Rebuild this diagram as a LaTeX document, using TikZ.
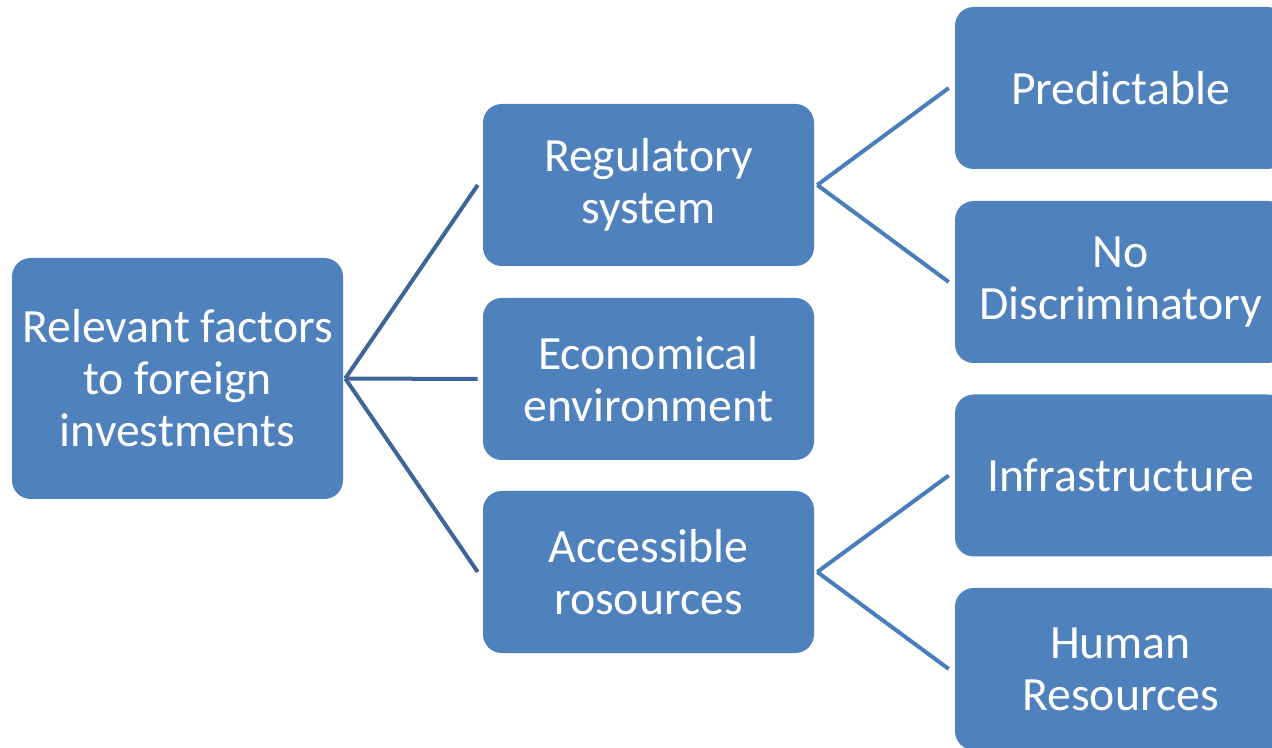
\documentclass[tikz,border=0pt]{standalone}
\usepackage{fontspec}
\setmainfont{Carlito}
\definecolor{boxblue}{RGB}{79,129,189}
\definecolor{linkdark}{RGB}{62,100,152}
\definecolor{linklight}{RGB}{74,126,187}

\begin{document}
\begin{tikzpicture}
  [x=0.75pt,y=-0.75pt,
   every node/.style={rectangle,rounded corners=14pt,fill=boxblue,text=white,
     align=center,inner sep=0pt,minimum width=248.25pt,minimum height=121.5pt,
     font=\fontsize{35.8}{39}\selectfont}]
  \useasboundingbox (0,0) rectangle (1272,748);
  \clip (0,0) rectangle (1272,748);
  \node[minimum height=180.75pt] (root) at (177.5,378.5) {Relevant factors\\to foreign\\investments};
  % middle column
  \node (regul) at (648.5,185) {Regulatory\\system};
  \node (econ) at (648.5,379) {Economical\\environment};
  \node (access) at (648.5,572) {Accessible\\rosources};
  % right column, cut by the page edge
  \node (predict) at (1120.5,88) {Predictable};
  \node (nodiscr) at (1120.5,282) {No\\Discriminatory};
  \node (infra) at (1120.5,475.5) {Infrastructure};
  \node (human) at (1120.5,669) {Human\\Resources};

  \foreach \from/\to in {root/regul,root/econ,root/access}
    \draw[linkdark,line width=3pt] ([xshift=1.5pt]\from.east) -- ([xshift=-3.75pt]\to.west);
  \foreach \from/\to in {regul/predict,regul/nodiscr,access/infra,access/human}
    \draw[linklight,line width=3pt] ([xshift=2.25pt]\from.east) -- ([xshift=-4.5pt]\to.west);
\end{tikzpicture}
\end{document}
